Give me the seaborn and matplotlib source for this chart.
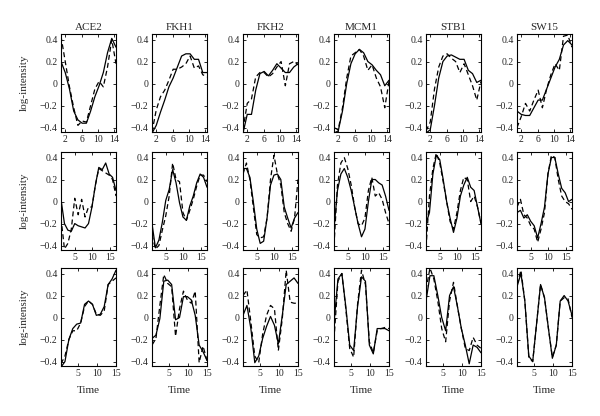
import numpy as np
import pandas as pd
import matplotlib
matplotlib.use("Agg")
import matplotlib.pyplot as plt
import seaborn as sns

genes = ["ACE2", "FKH1", "FKH2", "MCM1", "STB1", "SW15"]

# time points for each row (experiment)
time_r1 = [0.9, 1.94, 2.98, 4.02, 5.05, 6.09, 7.13, 8.17, 9.21, 10.25, 11.29, 12.32, 13.36, 14.4]
time_r2 = [1.0, 1.99, 2.98, 3.96, 4.95, 5.94, 6.93, 7.91, 8.9, 9.89, 10.88, 11.86, 12.85, 13.84, 14.83, 15.81, 16.8]
time_r3 = [0.5, 1.54, 2.57, 3.61, 4.64, 5.68, 6.71, 7.75, 8.79, 9.82, 10.86, 11.89, 12.93, 13.96, 15.0]

# Row 1: solid (observed) and dashed (fitted)
r1_solid = {
    "ACE2": [0.2, 0.1, -0.05, -0.25, -0.33, -0.36, -0.36, -0.25, -0.12, -0.02, 0.1, 0.28, 0.41, 0.33],
    "FKH1": [-0.45, -0.38, -0.26, -0.15, -0.03, 0.05, 0.15, 0.25, 0.27, 0.27, 0.22, 0.22, 0.1, 0.1],
    "FKH2": [-0.45, -0.28, -0.28, -0.06, 0.09, 0.11, 0.07, 0.12, 0.18, 0.14, 0.1, 0.1, 0.15, 0.18],
    "MCM1": [-0.45, -0.43, -0.25, 0.0, 0.18, 0.27, 0.31, 0.28, 0.2, 0.17, 0.12, 0.08, -0.02, 0.03],
    "STB1": [-0.45, -0.42, -0.2, 0.05, 0.2, 0.25, 0.26, 0.24, 0.22, 0.22, 0.12, 0.09, 0.01, 0.03],
    "SW15": [-0.25, -0.28, -0.29, -0.29, -0.22, -0.15, -0.15, -0.05, 0.05, 0.15, 0.22, 0.35, 0.39, 0.35],
}
r1_dashed = {
    "ACE2": [0.43, 0.2, -0.03, -0.22, -0.38, -0.34, -0.35, -0.2, -0.05, 0.02, -0.03, 0.15, 0.4, 0.18],
    "FKH1": [-0.44, -0.24, -0.12, -0.06, 0.03, 0.13, 0.13, 0.15, 0.18, 0.25, 0.14, 0.16, 0.08, 0.06],
    "FKH2": [-0.42, -0.18, -0.14, 0.06, 0.1, 0.1, 0.06, 0.09, 0.15, 0.2, -0.02, 0.18, 0.2, 0.17],
    "MCM1": [-0.4, -0.42, -0.22, 0.05, 0.25, 0.28, 0.31, 0.25, 0.12, 0.17, 0.05, -0.03, -0.22, 0.02],
    "STB1": [-0.43, -0.35, -0.05, 0.15, 0.25, 0.27, 0.23, 0.2, 0.1, 0.18, 0.08, -0.02, -0.15, 0.02],
    "SW15": [-0.4, -0.3, -0.18, -0.25, -0.15, -0.06, -0.22, -0.05, 0.08, 0.18, 0.12, 0.43, 0.44, 0.33],
}

# Row 2
r2_solid = {
    "ACE2": [0.02, -0.2, -0.26, -0.27, -0.2, -0.22, -0.23, -0.24, -0.2, -0.05, 0.15, 0.31, 0.29, 0.35, 0.25, 0.22, 0.1],
    "FKH1": [-0.2, -0.42, -0.35, -0.19, 0.01, 0.11, 0.29, 0.17, -0.01, -0.14, -0.17, -0.04, 0.05, 0.17, 0.25, 0.22, 0.13],
    "FKH2": [0.3, 0.3, 0.22, 0.0, -0.25, -0.38, -0.36, -0.15, 0.15, 0.24, 0.25, 0.2, -0.05, -0.15, -0.24, -0.15, -0.1],
    "MCM1": [-0.25, 0.1, 0.25, 0.3, 0.22, 0.1, -0.05, -0.2, -0.32, -0.25, 0.0, 0.2, 0.2, 0.17, 0.15, 0.05, -0.08],
    "STB1": [-0.2, -0.1, 0.25, 0.42, 0.38, 0.2, 0.0, -0.15, -0.28, -0.15, 0.05, 0.15, 0.22, 0.13, 0.1, -0.05, -0.2],
    "SW15": [-0.1, -0.08, -0.15, -0.12, -0.18, -0.22, -0.33, -0.2, -0.05, 0.25, 0.4, 0.4, 0.25, 0.12, 0.08, 0.0, 0.02],
}
r2_dashed = {
    "ACE2": [-0.15, -0.43, -0.38, -0.25, 0.03, -0.12, 0.02, -0.14, -0.05, -0.05, 0.15, 0.3, 0.28, 0.26, 0.24, 0.2, 0.05],
    "FKH1": [-0.3, -0.43, -0.4, -0.26, -0.13, 0.05, 0.35, 0.2, 0.18, -0.1, -0.17, -0.08, 0.02, 0.14, 0.24, 0.24, 0.18],
    "FKH2": [0.25, 0.35, 0.2, -0.05, -0.3, -0.33, -0.32, -0.15, 0.2, 0.42, 0.25, 0.15, -0.1, -0.2, -0.27, -0.15, 0.2],
    "MCM1": [-0.4, 0.15, 0.35, 0.4, 0.3, 0.15, -0.05, -0.2, -0.22, -0.15, 0.1, 0.22, 0.05, 0.08, 0.02, -0.1, -0.2],
    "STB1": [-0.42, 0.05, 0.3, 0.44, 0.35, 0.18, 0.0, -0.18, -0.25, -0.1, 0.1, 0.22, 0.2, 0.0, 0.05, -0.05, -0.2],
    "SW15": [-0.05, 0.02, -0.12, -0.15, -0.22, -0.25, -0.37, -0.25, -0.1, 0.25, 0.42, 0.4, 0.2, 0.05, 0.0, -0.02, -0.07],
}

# Row 3
r3_solid = {
    "ACE2": [-0.45, -0.4, -0.2, -0.1, -0.06, -0.05, 0.12, 0.15, 0.12, 0.02, 0.03, 0.1, 0.3, 0.35, 0.43],
    "FKH1": [-0.19, -0.16, -0.01, 0.33, 0.34, 0.3, -0.02, 0.0, 0.19, 0.19, 0.16, 0.02, -0.25, -0.31, -0.39],
    "FKH2": [0.02, 0.11, -0.1, -0.41, -0.35, -0.19, -0.08, 0.01, -0.07, -0.24, 0.02, 0.3, 0.33, 0.36, 0.31],
    "MCM1": [-0.05, 0.35, 0.4, 0.1, -0.25, -0.3, 0.1, 0.37, 0.33, -0.25, -0.33, -0.1, -0.1, -0.1, -0.12],
    "STB1": [0.15, 0.38, 0.38, 0.2, 0.0, -0.12, 0.2, 0.28, 0.1, -0.1, -0.25, -0.42, -0.25, -0.27, -0.32],
    "SW15": [0.28, 0.4, 0.15, -0.35, -0.4, -0.05, 0.3, 0.18, -0.1, -0.37, -0.25, 0.15, 0.2, 0.15, 0.02],
}
r3_dashed = {
    "ACE2": [-0.42, -0.35, -0.2, -0.12, -0.12, -0.05, 0.1, 0.15, 0.12, 0.03, 0.02, 0.06, 0.3, 0.33, 0.36],
    "FKH1": [-0.25, -0.19, 0.11, 0.39, 0.31, 0.28, -0.17, 0.08, 0.24, 0.16, 0.13, 0.24, -0.41, -0.26, -0.39],
    "FKH2": [0.2, 0.25, -0.04, -0.35, -0.41, -0.15, 0.02, 0.11, 0.08, -0.3, -0.01, 0.43, 0.14, 0.13, 0.13],
    "MCM1": [-0.2, 0.33, 0.4, 0.08, -0.28, -0.36, 0.12, 0.43, 0.3, -0.22, -0.32, -0.12, -0.1, -0.09, -0.1],
    "STB1": [0.25, 0.45, 0.35, 0.15, -0.1, -0.22, 0.15, 0.32, 0.1, -0.1, -0.28, -0.3, -0.18, -0.25, -0.28],
    "SW15": [0.3, 0.43, 0.15, -0.36, -0.4, -0.05, 0.3, 0.18, -0.1, -0.36, -0.25, 0.15, 0.18, 0.17, 0.0],
}

rows = [
    (time_r1, r1_solid, r1_dashed, (0.9, 14.4), [2, 6, 10, 14]),
    (time_r2, r2_solid, r2_dashed, (1.0, 16.8), [5, 10, 15]),
    (time_r3, r3_solid, r3_dashed, (0.5, 15.0), [5, 10, 15]),
]

yticks = [-0.4, -0.2, 0, 0.2, 0.4]
yticklabels = ["\u22120.4", "\u22120.2", "0", "0.2", "0.4"]

sns.set_style("ticks")
plt.rcParams["font.family"] = ["Liberation Serif", "DejaVu Serif"]

fig = plt.figure(figsize=(6.0, 4.16), dpi=100)
W, H = 600.0, 416.0
lefts = [61, 152, 243, 334, 426, 517]
tops = [34, 152, 268]
aw, ah = 55, 98

for r, (tm, sol, das, xl, xt) in enumerate(rows):
    for c, g in enumerate(genes):
        ax = fig.add_axes([lefts[c] / W, 1 - (tops[r] + ah) / H, aw / W, ah / H])
        df = pd.DataFrame({"Time": tm, "solid": sol[g], "dashed": das[g]})
        sns.lineplot(data=df, x="Time", y="solid", ax=ax, color="black", lw=0.9)
        sns.lineplot(data=df, x="Time", y="dashed", ax=ax, color="black", lw=0.9,
                     linestyle=(0, (4, 2.5)))
        ax.set_xlim(*xl)
        ax.set_ylim(-0.44, 0.45)
        ax.set_xticks(xt)
        ax.set_yticks(yticks)
        ax.set_yticklabels(yticklabels)
        ax.tick_params(direction="in", length=2.5, width=0.7, labelsize=7,
                       top=True, right=True, pad=2.5)
        for s in ax.spines.values():
            s.set_linewidth(0.8)
            s.set_color("black")
        if c == 0:
            ax.set_ylabel("log-intensity", fontsize=8)
            ax.yaxis.set_label_coords(-0.58, 0.5)
        else:
            ax.set_ylabel("")
        if r == 2:
            ax.set_xlabel("Time", fontsize=8)
            ax.xaxis.set_label_coords(0.5, -0.2)
        else:
            ax.set_xlabel("")
        if r == 0:
            ax.set_title(g, fontsize=8, pad=3)

fig.savefig("out.png", dpi=100)
